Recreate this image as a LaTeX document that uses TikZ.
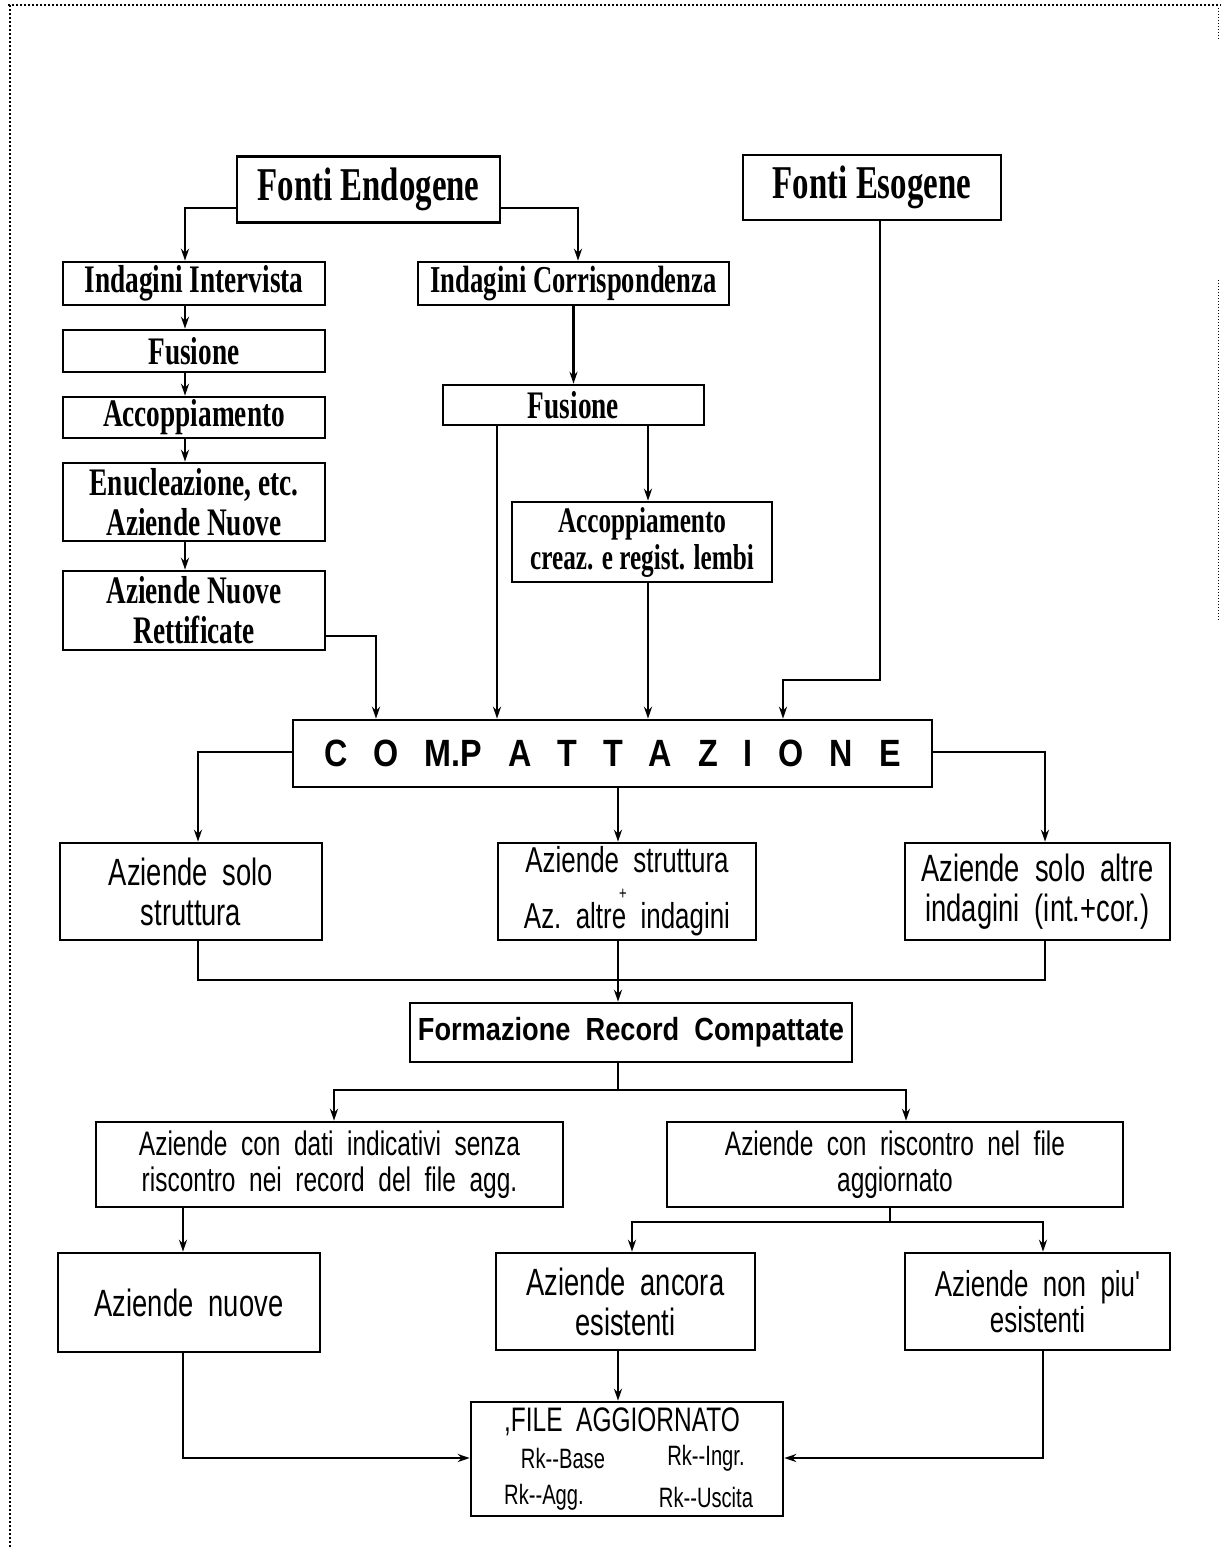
\documentclass[tikz,border=0pt]{standalone}
\usepackage{fontspec}
\usetikzlibrary{arrows.meta}
\newfontfamily\serifc[FakeStretch=0.7]{Liberation Serif}
\newfontfamily\plotf[FakeStretch=0.72]{Liberation Sans}
\newfontfamily\heavyf[FakeStretch=0.85]{Liberation Sans}
\def\gp{\hspace{26pt}}
\begin{document}
\begin{tikzpicture}[x=1pt,y=-1pt,
  box/.style={draw,line width=2.6pt,inner sep=0pt,align=center,text=black},
  tb/.style={box,font=\serifc\bfseries\fontsize{39}{40}\selectfont},
  lb/.style={box,font=\plotf\fontsize{38}{40}\selectfont},
  arr/.style={line width=2.2pt,-{Stealth[length=12pt,width=8pt]}},
  ln/.style={line width=2.2pt}]
\useasboundingbox (0,0) rectangle (1221,1555);
% frame
\draw[line width=2pt,dotted] (8,5) -- (1221,5);
\draw[line width=2pt,dotted] (10,5) -- (10,1548);
\draw[line width=1pt,dotted] (1218,8) -- (1218,40);
\draw[line width=1pt,dotted] (1218,280) -- (1218,620);
% nodes
\node[tb,minimum width=263,minimum height=66,font=\serifc\bfseries\fontsize{47}{48}\selectfont] (fe) at (368.5,189.5) {Fonti Endogene};
\node[tb,minimum width=258,minimum height=65,font=\serifc\bfseries\fontsize{47}{48}\selectfont] (fx) at (872,187.5) {Fonti Esogene};
\node[tb,minimum width=262,minimum height=43] (ii) at (194,283.5) {Indagini Intervista};
\node[tb,minimum width=311,minimum height=43,font=\serifc\bfseries\fontsize{38}{40}\selectfont] (ic) at (573.5,283.5) {Indagini Corrispondenza};
\node[tb,minimum width=262,minimum height=42] (fu1) at (194,351) {Fusione};
\node[tb,minimum width=262,minimum height=41] (ac1) at (194,417.5) {Accoppiamento};
\node[tb,minimum width=262,minimum height=78] (en) at (194,502) {Enucleazione, etc.\\Aziende Nuove};
\node[tb,minimum width=262,minimum height=79] (an) at (194,610.5) {Aziende Nuove\\Rettificate};
\node[tb,minimum width=261,minimum height=40] (fu2) at (573.5,405) {Fusione};
\node[tb,minimum width=260,minimum height=80,font=\serifc\bfseries\fontsize{36}{37}\selectfont] (ac2) at (642,542) {Accoppiamento\\creaz. e regist. lembi};
\node[box,minimum width=639,minimum height=67,font=\heavyf\bfseries\fontsize{38}{40}\selectfont] (comp) at (612.5,753.5) {C\gp O\gp M.P\gp A\gp T\gp T\gp A\gp Z\gp I\gp O\gp N\gp E};
\node[lb,minimum width=262,minimum height=97] (s1) at (191,891.5) {Aziende\ \ solo\\struttura};
\node[lb,minimum width=258,minimum height=97,font=\plotf\fontsize{36}{36}\selectfont] (s2) at (627,891.5) {Aziende\ \ struttura\\[20pt]Az.\ \ altre\ \ indagini};
\node[font=\plotf\fontsize{18}{18}\selectfont,inner sep=0pt] (plus) at (623,894) {+};
\node[lb,minimum width=265,minimum height=97] (s3) at (1037.5,891.5) {Aziende\ \ solo\ \ altre\\indagini\ \ (int.+cor.)};
\node[box,minimum width=442,minimum height=59,font=\heavyf\bfseries\fontsize{32}{34}\selectfont] (frc) at (631,1032.5) {Formazione\ \ Record\ \ Compattate};
\node[lb,minimum width=467,minimum height=85,font=\plotf\fontsize{34}{36}\selectfont] (d1) at (329.5,1164.5) {Aziende\ \ con\ \ dati\ \ indicativi\ \ senza\\riscontro\ \ nei\ \ record\ \ del\ \ file\ \ agg.};
\node[lb,minimum width=456,minimum height=85,font=\plotf\fontsize{34}{36}\selectfont] (d2) at (895,1164.5) {Aziende\ \ con\ \ riscontro\ \ nel\ \ file\\aggiornato};
\node[lb,minimum width=262,minimum height=99] (n1) at (189,1302.5) {Aziende\ \ nuove};
\node[lb,minimum width=259,minimum height=97] (n2) at (625.5,1301.5) {Aziende\ \ ancora\\esistenti};
\node[lb,minimum width=265,minimum height=97,font=\plotf\fontsize{36}{36}\selectfont] (n3) at (1037.5,1301.5) {Aziende\ \ non\ \ piu'\\esistenti};
\node[box,minimum width=312,minimum height=114] (fa) at (627,1459) {};
\node[font=\plotf\fontsize{34}{34}\selectfont,inner sep=0pt] (fat) at (622,1422) {,FILE\ \ AGGIORNATO};
\node[font=\plotf\fontsize{28}{28}\selectfont,inner sep=0pt] (rb) at (563,1458) {Rk--Base};
\node[font=\plotf\fontsize{28}{28}\selectfont,inner sep=0pt] (ri) at (706,1458) {Rk--Ingr.};
\node[font=\plotf\fontsize{28}{28}\selectfont,inner sep=0pt] (ra) at (544,1497) {Rk--Agg.};
\node[font=\plotf\fontsize{28}{28}\selectfont,inner sep=0pt] (ru) at (706,1497) {Rk--Uscita};
% helper coordinates
\coordinate (j1) at (185,208);
\coordinate (j2) at (578,208);
\coordinate (j3) at (376,636);
\coordinate (j4) at (497,0);
\coordinate (j5) at (648,0);
\coordinate (j6) at (880,680);
\coordinate (j7) at (783,680);
\coordinate (k1) at (198,752);
\coordinate (k2) at (1045,752);
\coordinate (k3) at (618,980);
\coordinate (k4) at (618,1090);
\coordinate (k5) at (334,1090);
\coordinate (k6) at (906,1090);
\coordinate (m1) at (183,0);
\coordinate (m2) at (890,1222);
\coordinate (m3) at (632,1222);
\coordinate (m4) at (1043,1222);
\coordinate (m5) at (618,0);
\coordinate (q1) at (183,1458);
\coordinate (q2) at (1043,1458);
% connectors top
\draw[arr] (j1 -| fe.west) -| (ii.north -| j1);
\draw[arr] (j2 -| fe.east) -| (ic.north -| j2);
\draw[arr] (ii.south -| j1) -- (fu1.north -| j1);
\draw[arr] (fu1.south -| j1) -- (ac1.north -| j1);
\draw[arr] (ac1.south -| j1) -- (en.north -| j1);
\draw[arr] (en.south -| j1) -- (an.north -| j1);
\draw[arr] (ic.south -| fu2.north) -- (fu2.north);
\draw[arr] (j3 -| an.east) -| (comp.north -| j3);
\draw[arr] (fu2.south -| j4) -- (comp.north -| j4);
\draw[arr] (fu2.south -| j5) -- (ac2.north -| j5);
\draw[arr] (ac2.south -| j5) -- (comp.north -| j5);
\draw[arr] (fx.south -| j6) -- (j6) -| (comp.north -| j7);
% compattazione outputs
\draw[arr] (k1 -| comp.west) -| (s1.north -| k1);
\draw[arr] (k2 -| comp.east) -| (s3.north -| k2);
\draw[arr] (comp.south -| k3) -- (s2.north -| k3);
\draw[ln] (s1.south -| k1) |- (k3);
\draw[ln] (s3.south -| k2) |- (k3);
\draw[arr] (s2.south -| k3) -- (frc.north -| k3);
% formazione outputs
\draw[ln] (frc.south -| k4) -- (k4);
\draw[arr] (k5) -- (k6) -- (d2.north -| k6);
\draw[arr] (k6) -- (k5) -- (d1.north -| k5);
\draw[arr] (d1.south -| m1) -- (n1.north -| m1);
\draw[ln] (d2.south -| m2) -- (m2);
\draw[arr] (m3) -- (m4) -- (n3.north -| m4);
\draw[arr] (m4) -- (m3) -- (n2.north -| m3);
% to file aggiornato
\draw[arr] (n1.south -| q1) |- (fa.west |- q1);
\draw[arr] (n3.south -| q2) |- (fa.east |- q2);
\draw[arr] (n2.south -| m5) -- (fa.north -| m5);
\end{tikzpicture}
\end{document}
